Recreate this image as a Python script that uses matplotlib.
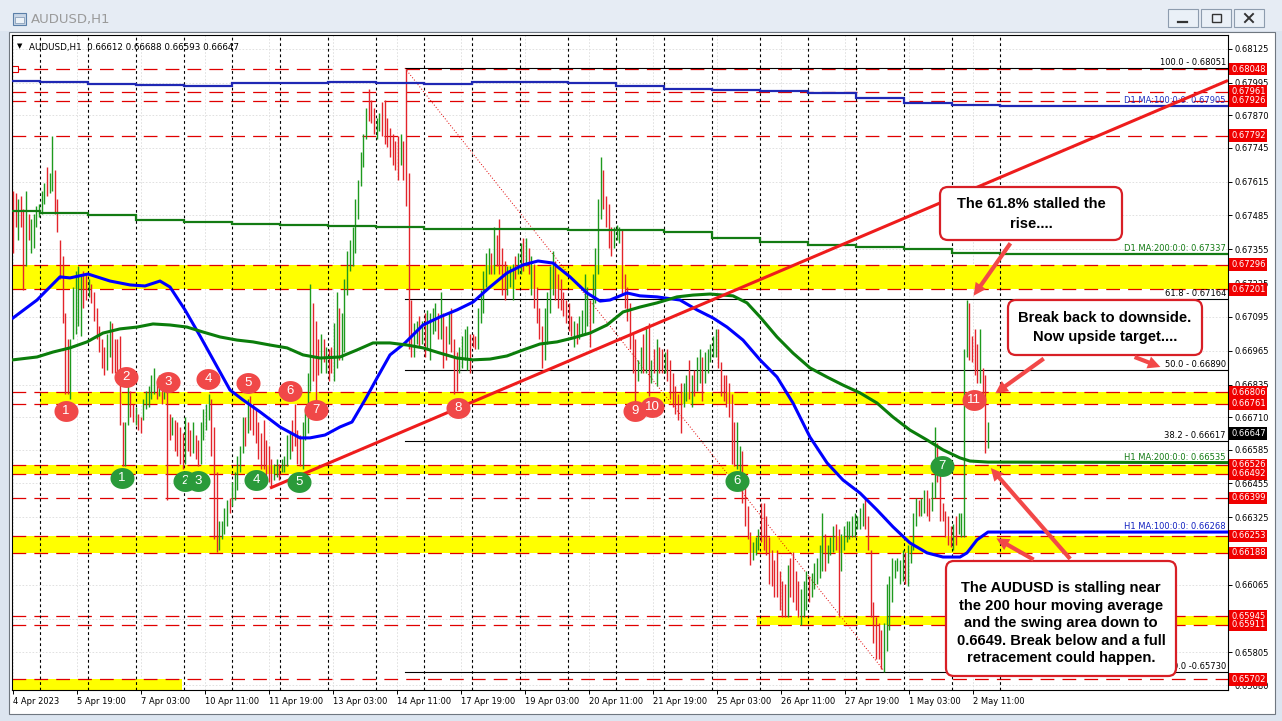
import numpy as np
import matplotlib
matplotlib.use("Agg")
import matplotlib.pyplot as plt
from matplotlib.patches import Rectangle, FancyBboxPatch, FancyArrowPatch
from matplotlib.collections import LineCollection
from matplotlib.path import Path
from matplotlib.transforms import IdentityTransform

plt.rcParams['font.family'] = ['DejaVu Sans']

# ---- hourly bars (left to right, in three stretches) ----
highs = [0.6758,0.6757,0.6755,0.6756,0.6751,0.6758,0.6749,0.6747,0.6749,0.6752,
         0.6753,0.6758,0.6761,0.6767,0.6765,0.6779,0.6766,0.6755,0.6739,0.6733,
         0.6711,0.6701,0.6701,0.6721,0.6727,0.6729,0.6726,0.6727,0.6726,0.6724,
         0.6722,0.6719,0.6713,0.6706,0.6701,0.6698,0.6703,0.6708,0.6707,0.6701,
         0.6701,0.6702,0.6669,0.6669,0.6683,0.6681,0.6676,0.6675,0.6672,0.6671,
         0.6678,0.6681,0.6683,0.6687,0.6690,0.6685,0.6687,0.6683,0.6683,0.6681,
         0.6672,0.6671,0.6670,0.6669,0.6667,0.6665,0.6671,0.6669,0.6666,0.6669,
         0.6664,0.6662,0.6669,0.6674,0.6676,0.6680,0.6678,0.6667,0.6650,0.6631,
         0.6631,0.6636,0.6639,0.6640,0.6646,0.6650,0.6656,0.6660,0.6671,0.6671,
         0.6678,0.6679,0.6676,0.6674,0.6669,0.6665,0.6670,0.6662,0.6660,0.6655,
         0.6653,0.6655,0.6653,0.6655,0.6656,0.6664,0.6665,0.6670,0.6676,0.6666,
         0.6664,0.6669,0.6674,0.6688,0.6722,0.6715,0.6708,0.6701,0.6703,0.6701,
         0.6698,0.6697,0.6698,0.6707,0.6719,0.6713,0.6711,0.6724,0.6735,
         0.6739,0.6744,0.6755,0.6762,0.6773,0.6780,0.6790,0.6797,0.6793,0.6790,
         0.6786,0.6788,0.6792,0.6793,0.6786,0.6782,0.6780,0.6777,0.6779,0.6780,
         0.6777,0.6805,0.6765,0.6716,0.6707,0.6708,0.6710,0.6708,0.6711,0.6712,
         0.6711,0.6713,0.6715,0.6711,0.6719,0.6711,0.6706,0.6711,0.6713,0.6701,
         0.6696,0.6698,0.6702,0.6705,0.6706,0.6703,0.6703,0.6702,0.6713,0.6720,
         0.6727,0.6734,0.6736,0.6734,0.6744,0.6741,0.6747,0.6736,0.6731,0.6729,
         0.6729,0.6730,0.6733,0.6734,0.6738,0.6740,0.6740,0.6736,0.6733,0.6730,
         0.6721,0.6713,0.6706,0.6713,0.6719,0.6729,0.6735,0.6731,0.6726,0.6724,
         0.6719,0.6716,0.6715,0.6710,0.6708,0.6707,0.6710,0.6712,0.6726,0.6721,
         0.6716,0.6726,0.6736,0.6755,0.6771,0.6766,0.6756,0.6753,0.6744,0.6744,
         0.6745,0.6744,0.6743,0.6726,0.6721,0.6715,0.6703,0.6701,0.6693,0.6698,
         0.6703,0.6706,0.6707,0.6693,0.6697,0.6701,0.6698,0.6697,0.6696,0.6697,
         0.6693,0.6688,0.6683,0.6680,
         0.6684,0.6684,0.6687,0.6693,0.6687,0.6689,0.6694,0.6697,0.6694,0.6696,
         0.6697,0.6699,0.6702,0.6705,0.6705,0.6692,0.6687,0.6687,0.6684,0.6680,
         0.6669,0.6669,0.6660,0.6658,0.6646,0.6637,0.6627,0.6623,0.6625,0.6628,
         0.6638,0.6638,0.6633,0.6625,0.6620,0.6616,0.6620,0.6612,0.6608,0.6607,
         0.6614,0.6617,0.6619,0.6612,0.6608,0.6605,0.6608,0.6612,0.6610,0.6611,
         0.6615,0.6617,0.6622,0.6634,0.6626,0.6622,0.6625,0.6629,0.6630,0.6628,
         0.6626,0.6629,0.6631,0.6631,0.6633,0.6634,0.6633,0.6636,0.6638,0.6640,
         0.6633,0.6620,0.6600,0.6594,0.6592,0.6589,0.6592,0.6607,0.6610,0.6617,
         0.6616,0.6617,0.6616,0.6620,0.6619,0.6622,0.6622,0.6634,0.6640,0.6639,
         0.6640,0.6643,0.6643,0.6640,0.6646,0.6667,0.6661,0.6651,0.6638,0.6635,
         0.6633,0.6629,0.6630,0.6633,0.6634,0.6634,0.6697,0.6716,0.6715,0.6702,
         0.6705,0.6699,0.6705,0.6690,0.6687,0.6669]
lows = [0.6734,0.6744,0.6739,0.6744,0.6720,0.6729,0.6739,0.6734,0.6736,0.6744,
        0.6748,0.6749,0.6753,0.6756,0.6757,0.6758,0.6749,0.6742,0.6724,0.6707,
        0.6680,0.6680,0.6678,0.6701,0.6703,0.6706,0.6702,0.6713,0.6716,0.6717,
        0.6715,0.6708,0.6701,0.6696,0.6690,0.6687,0.6689,0.6694,0.6688,0.6688,
        0.6685,0.6668,0.6652,0.6652,0.6668,0.6671,0.6669,0.6668,0.6666,0.6665,
        0.6670,0.6674,0.6675,0.6678,0.6680,0.6678,0.6679,0.6676,0.6678,0.6639,
        0.6662,0.6664,0.6658,0.6656,0.6653,0.6651,0.6653,0.6658,0.6656,0.6657,
        0.6655,0.6652,0.6653,0.6662,0.6666,0.6670,0.6656,0.6624,0.6619,0.6620,
        0.6624,0.6626,0.6629,0.6634,0.6637,0.6639,0.6643,0.6650,0.6657,0.6660,
        0.6665,0.6666,0.6664,0.6661,0.6655,0.6651,0.6651,0.6648,0.6646,0.6644,
        0.6647,0.6648,0.6647,0.6650,0.6650,0.6652,0.6655,0.6658,0.6660,0.6653,
        0.6652,0.6651,0.6662,0.6665,0.6681,0.6685,0.6675,0.6687,0.6688,0.6692,
        0.6688,0.6685,0.6688,0.6685,0.6690,0.6693,0.6693,0.6696,0.6718,
        0.6727,0.6729,0.6734,0.6747,0.6760,0.6767,0.6778,0.6785,0.6784,0.6780,
        0.6778,0.6781,0.6779,0.6776,0.6775,0.6771,0.6768,0.6766,0.6762,0.6768,
        0.6762,0.6752,0.6697,0.6694,0.6694,0.6699,0.6698,0.6699,0.6694,0.6697,
        0.6693,0.6703,0.6704,0.6701,0.6701,0.6690,0.6693,0.6699,0.6696,0.6680,
        0.6681,0.6688,0.6690,0.6693,0.6689,0.6688,0.6698,0.6697,0.6697,0.6707,
        0.6711,0.6721,0.6726,0.6726,0.6726,0.6729,0.6726,0.6718,0.6716,0.6718,
        0.6721,0.6716,0.6724,0.6726,0.6726,0.6727,0.6729,0.6726,0.6718,0.6713,
        0.6707,0.6701,0.6690,0.6693,0.6699,0.6711,0.6718,0.6716,0.6713,0.6712,
        0.6710,0.6707,0.6704,0.6702,0.6698,0.6699,0.6701,0.6703,0.6703,0.6706,
        0.6698,0.6707,0.6715,0.6726,0.6747,0.6751,0.6744,0.6736,0.6733,0.6736,
        0.6739,0.6738,0.6718,0.6713,0.6708,0.6697,0.6688,0.6671,0.6685,0.6688,
        0.6688,0.6688,0.6679,0.6684,0.6688,0.6683,0.6688,0.6688,0.6688,0.6685,
        0.6678,0.6675,0.6672,0.6670,
        0.6665,0.6675,0.6677,0.6678,0.6675,0.6679,0.6681,0.6684,0.6677,0.6684,
        0.6688,0.6692,0.6694,0.6694,0.6690,0.6679,0.6677,0.6675,0.6671,0.6653,
        0.6652,0.6651,0.6646,0.6638,0.6629,0.6624,0.6614,0.6616,0.6618,0.6620,
        0.6623,0.6620,0.6618,0.6607,0.6606,0.6602,0.6602,0.6597,0.6594,0.6594,
        0.6594,0.6602,0.6600,0.6597,0.6594,0.6591,0.6594,0.6597,0.6600,0.6602,
        0.6605,0.6607,0.6609,0.6612,0.6612,0.6615,0.6618,0.6619,0.6620,0.6594,
        0.6612,0.6620,0.6623,0.6624,0.6625,0.6625,0.6628,0.6628,0.6629,0.6628,
        0.6620,0.6594,0.6584,0.6578,0.6578,0.6574,0.6573,0.6581,0.6589,0.6600,
        0.6609,0.6612,0.6607,0.6608,0.6607,0.6606,0.6615,0.6620,0.6629,0.6633,
        0.6633,0.6634,0.6633,0.6631,0.6635,0.6640,0.6646,0.6631,0.6631,0.6625,
        0.6622,0.6621,0.6620,0.6622,0.6626,0.6625,0.6625,0.6694,0.6693,0.6692,
        0.6687,0.6684,0.6684,0.6678,0.6657,0.6659]
dirs = ("rrgrrgrggg" "gggrggrrrr" "rrgggggrrg" "rrrrrrggrr" "rrrggrrgrr"
        "gggggrgrgr" "rgrrrrgrrg" "rrggggrrrg" "gggrgggggr" "grrrrrrrrr"
        "ggrggggrrr" "rggggrrrgr" "grrggrggg"
        "gggggggrrr" "ggrrrrrrrg" "rrrrggrgrg" "gggrgrrgrr" "rggggrrrgg"
        "gggrgrrrrg" "ggrggrgrgr" "rrrggggrrr" "rrrrgrgggg" "rggggrrrrg"
        "ggrrrrrrgg" "rgrgrgrrgr" "rrrr"
        "rggrgrggrg" "ggggrrrrrr" "rggrrrrggg" "rrrrrrrrrr" "grrrrgggrg"
        "ggggrgggrr" "gggggggggr" "rrrrrrgggg" "ggggrggggr" "ggrrggrrrr"
        "rrgrggggrr" "rrgrrg")
# bar count and first/last hour of each stretch
stretch_bars = [129, 124, 116]
stretch_hours = [(0, 167), (168.5, 332.5), (334, 487.5)]
assert len(highs) == len(lows) == len(dirs) == sum(stretch_bars)

# ---- moving averages ----
h1_ma100_hours = [0, 12, 23.5, 28.5, 37.5, 48.5, 58.5, 66, 73.5, 78.5, 86, 93.5, 101, 108.5, 115,
                  123.5, 133.5, 143.5, 148.5, 156, 163.5, 169.5, 176, 182, 188.5, 196, 205, 213.5,
                  222, 230, 238.5, 247, 255, 262.5, 270, 278.5, 287, 293.5, 298.5, 307, 313.5, 322,
                  333.5, 342, 350, 357, 365, 373.5, 382, 390, 398.5, 407, 415, 423.5, 432, 440,
                  448.5, 457, 465, 473.5, 477, 482, 487.5, 607.5]
h1_ma100 = [0.67091, 0.67160, 0.67249, 0.67245, 0.67260, 0.67233, 0.67218, 0.67214, 0.67233, 0.67210,
            0.67122, 0.67022, 0.66918, 0.66814, 0.66776, 0.66730, 0.66672, 0.66630, 0.66630, 0.66641,
            0.66672, 0.66691, 0.66776, 0.66860, 0.66949, 0.66995, 0.67064, 0.67095, 0.67122, 0.67152,
            0.67210, 0.67264, 0.67295, 0.67310, 0.67302, 0.67249, 0.67187, 0.67156, 0.67160, 0.67187,
            0.67176, 0.67172, 0.67160, 0.67122, 0.67091, 0.67056, 0.67006, 0.66930, 0.66864, 0.66764,
            0.66633, 0.66534, 0.66468, 0.66418, 0.66353, 0.66288, 0.66226, 0.66188, 0.66172, 0.66172,
            0.66188, 0.66238, 0.66268, 0.66268]
h1_ma200_hours = [0, 12, 20, 28.5, 37, 45, 53.5, 62, 70, 78.5, 87, 95, 103.5, 112, 120, 128.5, 137,
                  145, 153.5, 163.5, 172, 180, 188.5, 197, 205, 213.5, 222, 230, 238.5, 247, 255,
                  263.5, 272, 280, 288.5, 297, 305, 313.5, 322, 332, 340, 348.5, 360, 367, 373.5,
                  382, 390, 398.5, 407, 415, 423.5, 432, 440, 448.5, 457, 465, 473.5, 478.5, 487.5, 607.5]
h1_ma200 = [0.66930, 0.66941, 0.66960, 0.66976, 0.66999, 0.67033, 0.67049, 0.67056, 0.67068, 0.67064,
            0.67056, 0.67037, 0.67018, 0.67006, 0.66999, 0.66987, 0.66976, 0.66949, 0.66937, 0.66941,
            0.66968, 0.66995, 0.66995, 0.66987, 0.66976, 0.66956, 0.66937, 0.66930, 0.66933, 0.66945,
            0.66968, 0.66991, 0.66999, 0.67014, 0.67033, 0.67064, 0.67114, 0.67133, 0.67149, 0.67172,
            0.67179, 0.67183, 0.67176, 0.67149, 0.67095, 0.67018, 0.66956, 0.66899, 0.66864, 0.66833,
            0.66803, 0.66764, 0.66710, 0.66660, 0.66622, 0.66584, 0.66553, 0.66541, 0.66537, 0.66535]
d1_ma100 = [0.68003, 0.67999, 0.67990, 0.67987, 0.67984, 0.67993, 0.67993, 0.67998, 0.67995, 0.67990,
            0.67997, 0.67997, 0.67993, 0.67984, 0.67971, 0.67967, 0.67964, 0.67956, 0.67937, 0.67917,
            0.67910, 0.67905]
d1_ma200 = [0.67503, 0.67493, 0.67487, 0.67468, 0.67460, 0.67452, 0.67448, 0.67445, 0.67441, 0.67433,
            0.67433, 0.67433, 0.67431, 0.67429, 0.67422, 0.67398, 0.67383, 0.67372, 0.67364, 0.67356,
            0.67341, 0.67337]

# ---- levels, fib, trend ----
red_levels = [0.68048, 0.67961, 0.67926, 0.67792, 0.67296, 0.67201, 0.66806, 0.66761,
              0.66526, 0.66492, 0.66399, 0.66253, 0.66188, 0.65945, 0.65911, 0.65702]
bands = [(0.67201, 0.67296, -0.5, 607.5), (0.66761, 0.66806, 13.5, 607.5),
         (0.66492, 0.66526, -0.5, 607.5), (0.66188, 0.66253, -0.5, 607.5),
         (0.65911, 0.65945, 372, 607.5), (0.65600, 0.65702, -0.5, 84.5)]
fib_levels = [0.68051, 0.67164, 0.66890, 0.66617, 0.65730]
fib_labels = ["100.0 - 0.68051", "61.8 - 0.67164", "50.0 - 0.66890", "38.2 - 0.66617", "0.0 -0.65730"]
fib_hi = (196, 0.68051)
fib_lo = (436, 0.65730)
trend = [(128.5, 0.66437), (607.5, 0.68004)]
last_price = 0.66647

price_ticks = [0.68125, 0.67995, 0.67870, 0.67745, 0.67615, 0.67485, 0.67355, 0.67225, 0.67095,
               0.66965, 0.66835, 0.66710, 0.66585, 0.66455, 0.66325, 0.66195, 0.66065, 0.65935,
               0.65805, 0.65680]
hidden_ticks = [0.66195, 0.65935]   # covered by the price tags in the terminal
time_labels = ["4 Apr 2023", "5 Apr 19:00", "7 Apr 03:00", "10 Apr 11:00", "11 Apr 19:00",
               "13 Apr 03:00", "14 Apr 11:00", "17 Apr 19:00", "19 Apr 03:00", "20 Apr 11:00",
               "21 Apr 19:00", "25 Apr 03:00", "26 Apr 11:00", "27 Apr 19:00", "1 May 03:00",
               "2 May 11:00"]
time_label_hours = [32 * k for k in range(len(time_labels))]
day_starts = [13.5 + 24 * k for k in range(21)]

red_marks_h = [26.5, 56.5, 77.5, 97.5, 117.5, 138.5, 151.5, 222.5, 311, 319.5, 480.5]
red_marks_p = [0.66734, 0.66864, 0.66845, 0.66857, 0.66841, 0.66810, 0.66737, 0.66745,
               0.66734, 0.66749, 0.66776]
green_marks_h = [54.5, 86, 92.5, 121.5, 143, 362, 464.5]
green_marks_p = [0.66476, 0.66464, 0.66464, 0.66468, 0.66461, 0.66464, 0.66522]

W, H = 1282, 721
fig = plt.figure(figsize=(W / 100, H / 100), dpi=100)
fig.patch.set_facecolor('#dce5f0')
PX = IdentityTransform()


def prect(x0, y0, x1, y1, **kw):
    r = Rectangle((x0, H - y1), x1 - x0, y1 - y0, transform=PX, **kw)
    fig.add_artist(r)
    return r


def pline(xs, ys, **kw):
    fig.add_artist(plt.Line2D(xs, [H - y for y in ys], transform=PX, **kw))


# window chrome
prect(0, 0, W, 31, fc='#e6ecf4', ec='none', zorder=-2)
prect(9, 32, 1275, 714, fc='white', ec='#6f7780', lw=0.8, zorder=-1)
prect(13, 13, 26, 25, fc='#c9d6e6', ec='#5b7fa8', lw=0.8, zorder=1)
prect(15, 17, 24, 23, fc='#eef3f8', ec='#7a93b0', lw=0.5, zorder=1)
fig.text(31 / W, 1 - 19 / H, "AUDUSD,H1", fontsize=9.5, color='#9a9a9a', va='center', ha='left')
for bx in (1168, 1201, 1234):
    prect(bx, 9, bx + 30, 27, fc='#eaf0f7', ec='#8d9cae', lw=0.8, zorder=1)
pline([1178, 1187], [22, 22], color='#333333', lw=1.6, zorder=2)
prect(1212, 14, 1221, 22, fc='none', ec='#333333', lw=1.0, zorder=2)
pline([1245, 1253], [14, 22], color='#333333', lw=1.4, zorder=2)
pline([1245, 1253], [22, 14], color='#333333', lw=1.4, zorder=2)

ax = fig.add_axes([12 / W, 1 - 690 / H, (1228 - 12) / W, (690 - 35) / H])
ax.set_xlim(-0.5, 607.5)
ax.set_ylim(0.656608, 0.681788)
ax.set_facecolor('white')
for s in ax.spines.values():
    s.set_linewidth(0.8)
    s.set_color('black')

ax.yaxis.tick_right()
ax.set_yticks(price_ticks)
ax.set_yticklabels(["" if p in hidden_ticks else "%.5f" % p for p in price_ticks])
ax.tick_params(axis='y', length=3, width=0.7, labelsize=6, pad=2, colors='black')
ax.set_xticks(time_label_hours)
ax.set_xticklabels(time_labels)
ax.tick_params(axis='x', length=3, width=0.7, labelsize=6, pad=2)
for lbl in ax.get_xticklabels():
    lbl.set_ha('left')

# faint grid
for p in price_ticks:
    ax.axhline(p, color='#dcdcdc', lw=0.6, ls=(0, (2, 2)), zorder=0.5)
for t in time_label_hours:
    ax.axvline(t, color='#dcdcdc', lw=0.6, ls=(0, (2, 2)), zorder=0.5)

# yellow zones and red dashed levels
for lo, hi, x0, x1 in bands:
    ax.fill_between([x0, x1], lo, hi, color='#ffff00', lw=0, zorder=1)
for lv in red_levels:
    ax.axhline(lv, color='#e00000', lw=0.9, ls=(0, (11, 6.5)), zorder=2)
ax.plot([0.8], [0.68048], marker='s', ms=4, mfc='white', mec='#e00000', mew=0.8, zorder=2.5)

# day separators
for d in day_starts:
    ax.axvline(d, color='black', lw=0.8, ls=(0, (2.5, 2.5)), zorder=2)

# fibonacci
for lv, lab in zip(fib_levels, fib_labels):
    ax.plot([fib_hi[0], 607.5], [lv, lv], color='black', lw=0.8, zorder=2)
    ax.text(606.5, lv + 0.00003, lab, fontsize=6, ha='right', va='bottom', zorder=2)
ax.plot([fib_hi[0], fib_lo[0]], [fib_hi[1], fib_lo[1]], color='#e00000', lw=0.7,
        ls=(0, (1, 2)), zorder=2)

# price bars
hours = np.concatenate([np.linspace(a, b, n) for n, (a, b) in zip(stretch_bars, stretch_hours)])
segs = [[(h, lo), (h, hi)] for h, lo, hi in zip(hours, lows, highs)]
cols = ['#1e9a1e' if d == 'g' else '#e3242b' for d in dirs]
ax.add_collection(LineCollection(segs, colors=cols, linewidths=1.0, zorder=3))

# moving averages
edges = [-0.5] + day_starts + [607.5]
ax.stairs(d1_ma100, edges, color='#1f28b4', lw=1.6, zorder=4, baseline=None)
ax.stairs(d1_ma200, edges, color='#137b13', lw=1.6, zorder=4, baseline=None)
ax.plot(h1_ma100_hours, h1_ma100, color='#0000ff', lw=2.2, zorder=4)
ax.plot(h1_ma200_hours, h1_ma200, color='#0b7d0b', lw=2.2, zorder=4)
ax.text(606.5, d1_ma100[-1] + 0.00004, "D1 MA:100:0:0: 0.67905", fontsize=6, color='#2030c0',
        ha='right', va='bottom', zorder=4)
ax.text(606.5, d1_ma200[-1] + 0.00004, "D1 MA:200:0:0: 0.67337", fontsize=6, color='#137b13',
        ha='right', va='bottom', zorder=4)
ax.text(606.5, h1_ma200[-1] + 0.00004, "H1 MA:200:0:0: 0.66535", fontsize=6, color='#137b13',
        ha='right', va='bottom', zorder=4)
ax.text(606.5, h1_ma100[-1] + 0.00004, "H1 MA:100:0:0: 0.66268", fontsize=6, color='#1020c0',
        ha='right', va='bottom', zorder=4)

# trend line
ax.plot([trend[0][0], trend[1][0]], [trend[0][1], trend[1][1]], color='#ee1c1c', lw=2.2,
        zorder=5, solid_capstyle='butt')

# header text
ax.text(0.004, 0.988, "\u25BC", transform=ax.transAxes, fontsize=5, va='top', ha='left')
ax.text(0.014, 0.988, "AUDUSD,H1  0.66612 0.66688 0.66593 0.66647", transform=ax.transAxes,
        fontsize=6.3, va='top', ha='left')

# touch markers
tt = np.linspace(0, 2 * np.pi, 60)
ell = Path(np.column_stack([1.15 * np.cos(tt), np.sin(tt)]))
z = 6
for marks_h, marks_p, col in ((red_marks_h, red_marks_p, '#f04848'),
                              (green_marks_h, green_marks_p, '#2a9a3a')):
    for i, (h, p) in enumerate(zip(marks_h, marks_p)):
        ax.scatter([h], [p], s=300, marker=ell, c=col, lw=0, zorder=z)
        ax.text(h, p, str(i + 1), color='white', fontsize=9.5, ha='center', va='center',
                family='Liberation Sans', zorder=z + 0.5)
        z += 1

# right-side price tags
yt = ax.get_yaxis_transform()
for lv in red_levels:
    ax.text(1.0025, lv, "%.5f" % lv, transform=yt, fontsize=6, color='white', va='center',
            ha='left', clip_on=False, zorder=30,
            bbox=dict(boxstyle='square,pad=0.22', fc='#f00000', ec='none'))
ax.text(1.0025, last_price, "%.5f" % last_price, transform=yt, fontsize=6, color='white',
        va='center', ha='left', clip_on=False, zorder=30,
        bbox=dict(boxstyle='square,pad=0.22', fc='black', ec='none'))

# callout boxes
boxes = [((940, 187, 1122, 240), ["The 61.8% stalled the", "rise...."], [204, 224]),
         ((1008, 300, 1202, 355), ["Break back to downside.", "Now upside target...."], [318, 337]),
         ((946, 561, 1176, 676), ["The AUDUSD is stalling near", "the 200 hour moving average",
                                  "and the swing area down to", "0.6649. Break below and a full",
                                  "retracement could happen."], [588, 606, 623, 641, 658])]
for (x0, y0, x1, y1), lines, ys in boxes:
    fig.add_artist(FancyBboxPatch((x0, H - y1), x1 - x0, y1 - y0, transform=PX,
                                  boxstyle='round,pad=0,rounding_size=8', fc='white',
                                  ec='#d81f26', lw=1.6, zorder=20))
    for ln, y in zip(lines, ys):
        fig.text((x0 + x1) / 2 / W, 1 - y / H, ln, fontsize=10.6, fontweight='bold',
                 family='Liberation Sans', ha='center', va='center', zorder=21)

arrows = [((1012, 241), (972, 298)), ((1046, 357), (993, 395)), ((1132, 356), (1163, 368)),
          ((1072, 561), (989, 466)), ((1036, 561), (994, 537))]
for (xa, ya), (xb, yb) in arrows:
    fig.add_artist(FancyArrowPatch((xa, H - ya), (xb, H - yb), transform=PX,
                                   arrowstyle='simple,head_length=0.9,head_width=0.9,tail_width=0.3',
                                   mutation_scale=10, fc='#f24848', ec='none', zorder=22))

fig.savefig('out.png', dpi=100)
